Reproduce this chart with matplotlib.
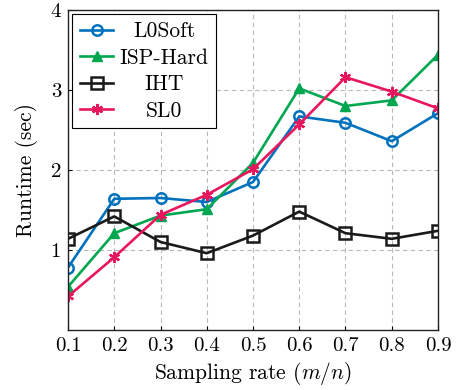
import numpy as np
import matplotlib
matplotlib.use('Agg')
import matplotlib.pyplot as plt

# sampling rate and runtimes
rate = [0.1, 0.2, 0.3, 0.4, 0.5, 0.6, 0.7, 0.8, 0.9]
l0soft = [0.78, 1.64, 1.65, 1.60, 1.85, 2.67, 2.59, 2.36, 2.71]
isp_hard = [0.54, 1.21, 1.43, 1.51, 2.09, 3.02, 2.80, 2.87, 3.44]
iht = [1.14, 1.42, 1.10, 0.96, 1.18, 1.48, 1.21, 1.14, 1.24]
sl0 = [0.42, 0.91, 1.44, 1.69, 2.01, 2.57, 3.16, 2.98, 2.77]

labels = ['L0Soft', 'ISP-Hard', 'IHT', 'SL0']
yticks = [1, 2, 3, 4]

matplotlib.rc('font', family='serif', size=15.5)
matplotlib.rc('font', serif=['cmr10', 'DejaVu Serif'])
matplotlib.rc('mathtext', fontset='cm')
matplotlib.rc('axes', unicode_minus=False)

fig = plt.figure(figsize=(4.58, 3.9), dpi=100)
ax = fig.add_axes([0.1485, 0.1538, 0.8078, 0.8206])

lw = 1.9
ax.plot(rate, l0soft, color='#0072bd', lw=lw, marker='o', markersize=7.5,
        markerfacecolor='none', markeredgewidth=1.8, label=labels[0])
ax.plot(rate, isp_hard, color='#00a650', lw=lw, marker='^', markersize=7.5,
        markeredgewidth=1.0, label=labels[1])
ax.plot(rate, iht, color='#1a1a1a', lw=lw, marker='s', markersize=8,
        markerfacecolor='none', markeredgewidth=1.8, label=labels[2])
ax.plot(rate, sl0, color='#e8175d', lw=lw, marker=(6, 2, 0), markersize=8,
        markeredgewidth=1.6, label=labels[3])

ax.set_xlim(0.1, 0.9)
ax.set_ylim(0, 4)
ax.set_xticks(rate)
ax.set_xticklabels(['%.1f' % r for r in rate])
ax.set_yticks(yticks)
ax.set_yticklabels([str(t) for t in yticks])
ax.tick_params(direction='in', length=3, width=0.8, labelsize=15, pad=5)
ax.grid(True, linestyle=(0, (4, 3)), color='#b8b8b8', lw=0.8)
for s in ax.spines.values():
    s.set_linewidth(1.0)
    s.set_color('#222222')

ax.set_xlabel('Sampling rate $(m/n)$', fontsize=15.5, labelpad=4)
ax.set_ylabel('Runtime (sec)', fontsize=15.5, labelpad=9)

leg = ax.legend(loc='upper left', fancybox=False, edgecolor='black', framealpha=1,
                borderpad=0.35, labelspacing=0.32, handlelength=1.55, handletextpad=0.3,
                borderaxespad=0.2, fontsize=15.5)
leg.get_frame().set_linewidth(0.8)

# centre the legend entries like the original
fig.canvas.draw()
texts = leg.get_texts()
widths = [t.get_window_extent().width for t in texts]
wmax = max(widths)
for t, w in zip(texts, widths):
    t.set_x((wmax - w) / 2)

plt.savefig('out.png', dpi=100)
